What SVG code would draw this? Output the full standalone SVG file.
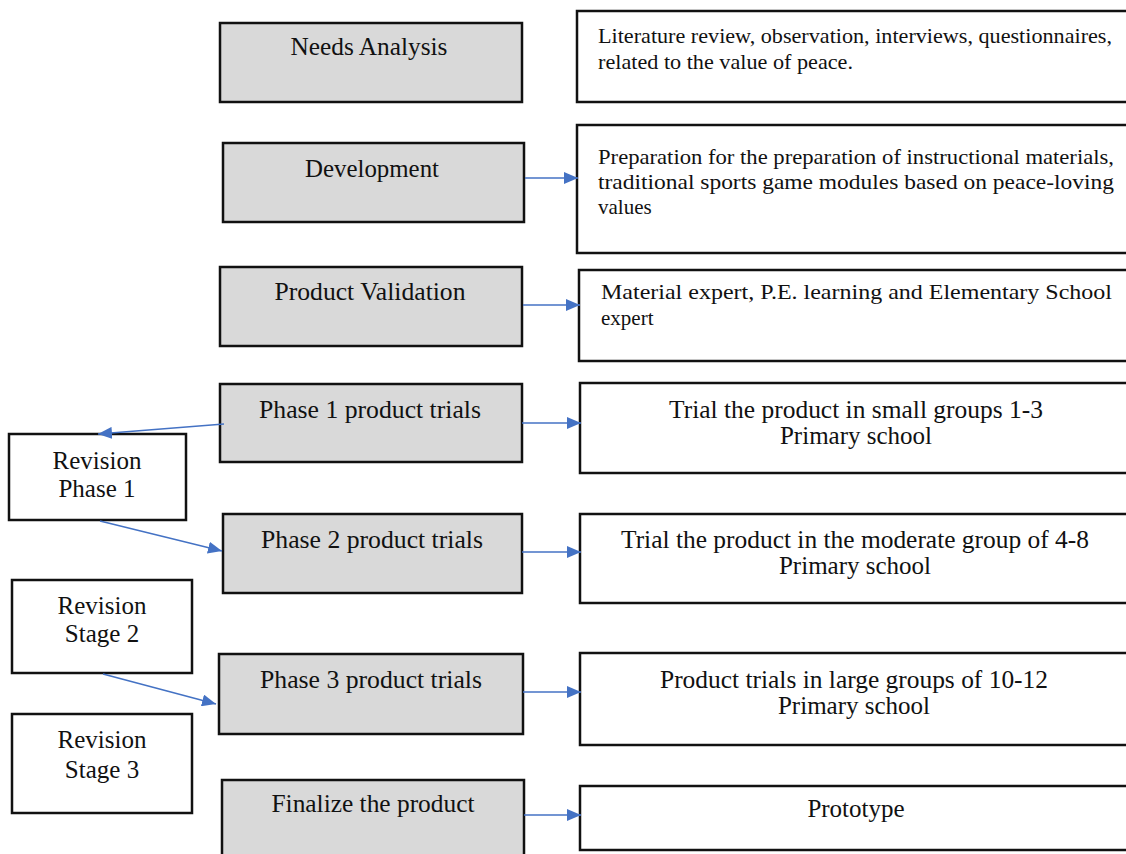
<svg xmlns="http://www.w3.org/2000/svg" width="1126" height="854" viewBox="0 0 1126 854">
<defs>
<style>
.box{fill:#fff;stroke:#111;stroke-width:2.5}
.gray{fill:#d9d9d9;stroke:#111;stroke-width:2.5}
.lbl{font-family:"Liberation Serif",serif;font-size:25px;fill:#111;text-anchor:middle}
.desc{font-family:"Liberation Serif",serif;font-size:21px;fill:#111}
.con{stroke:#4472c4;stroke-width:1.5;fill:none;marker-end:url(#ah)}
</style>
<marker id="ah" viewBox="0 0 14 12" refX="14" refY="6" markerWidth="14" markerHeight="12" markerUnits="userSpaceOnUse" orient="auto">
<path d="M0,0 L14,6 L0,12 z" fill="#4472c4"/>
</marker>
</defs>
<rect width="1126" height="854" fill="#fff"/>

<g id="needs-analysis"><rect class="gray" x="220" y="23" width="302" height="79"/><text class="lbl" x="369" y="55" textLength="157" lengthAdjust="spacingAndGlyphs">Needs Analysis</text></g>
<g id="literature"><rect class="box" x="577" y="11" width="560" height="91"/>
<text class="desc" x="598" y="43" textLength="514" lengthAdjust="spacingAndGlyphs">Literature review, observation, interviews, questionnaires,</text>
<text class="desc" x="598" y="69" textLength="255" lengthAdjust="spacingAndGlyphs">related to the value of peace.</text></g>

<g id="development"><rect class="gray" x="223" y="143" width="301" height="79"/><text class="lbl" x="372" y="177" textLength="134" lengthAdjust="spacingAndGlyphs">Development</text></g>
<g id="preparation"><rect class="box" x="577" y="125" width="560" height="128"/>
<text class="desc" x="598" y="164" textLength="516" lengthAdjust="spacingAndGlyphs">Preparation for the preparation of instructional materials,</text>
<text class="desc" x="598" y="189" textLength="516" lengthAdjust="spacingAndGlyphs">traditional sports game modules based on peace-loving</text>
<text class="desc" x="598" y="214">values</text></g>

<g id="product-validation"><rect class="gray" x="220" y="267" width="302" height="79"/><text class="lbl" x="370" y="300" textLength="191" lengthAdjust="spacingAndGlyphs">Product Validation</text></g>
<g id="material"><rect class="box" x="579" y="270" width="560" height="91"/>
<text class="desc" x="601" y="299" textLength="511" lengthAdjust="spacingAndGlyphs">Material expert, P.E. learning and Elementary School</text>
<text class="desc" x="601" y="325">expert</text></g>

<g id="phase1"><rect class="gray" x="220" y="384" width="302" height="78"/><text class="lbl" x="370" y="418" textLength="222" lengthAdjust="spacingAndGlyphs">Phase 1 product trials</text></g>
<g id="trial1"><rect class="box" x="580" y="383" width="560" height="90"/>
<text class="lbl" x="856" y="418" textLength="374" lengthAdjust="spacingAndGlyphs">Trial the product in small groups 1-3</text>
<text class="lbl" x="856" y="444">Primary school</text></g>

<g id="revision1"><rect class="box" x="9" y="434" width="177" height="86"/>
<text class="lbl" x="97" y="469">Revision</text><text class="lbl" x="97" y="497">Phase 1</text></g>

<g id="phase2"><rect class="gray" x="223" y="514" width="299" height="79"/><text class="lbl" x="372" y="548" textLength="222" lengthAdjust="spacingAndGlyphs">Phase 2 product trials</text></g>
<g id="trial2"><rect class="box" x="580" y="514" width="560" height="89"/>
<text class="lbl" x="855" y="548" textLength="468" lengthAdjust="spacingAndGlyphs">Trial the product in the moderate group of 4-8</text>
<text class="lbl" x="855" y="574">Primary school</text></g>

<g id="revision2"><rect class="box" x="12" y="580" width="180" height="93"/>
<text class="lbl" x="102" y="614">Revision</text><text class="lbl" x="102" y="642">Stage 2</text></g>

<g id="phase3"><rect class="gray" x="219" y="654" width="304" height="80"/><text class="lbl" x="371" y="688" textLength="222" lengthAdjust="spacingAndGlyphs">Phase 3 product trials</text></g>
<g id="trial3"><rect class="box" x="580" y="653" width="560" height="92"/>
<text class="lbl" x="854" y="688" textLength="388" lengthAdjust="spacingAndGlyphs">Product trials in large groups of 10-12</text>
<text class="lbl" x="854" y="714">Primary school</text></g>

<g id="revision3"><rect class="box" x="12" y="714" width="180" height="99"/>
<text class="lbl" x="102" y="748">Revision</text><text class="lbl" x="102" y="778">Stage 3</text></g>

<g id="finalize"><rect class="gray" x="222" y="780" width="302" height="90"/><text class="lbl" x="373" y="812" textLength="203" lengthAdjust="spacingAndGlyphs">Finalize the product</text></g>
<g id="prototype"><rect class="box" x="580" y="786" width="560" height="64"/>
<text class="lbl" x="856" y="817">Prototype</text></g>

<g id="connectors">
<line class="con" x1="525" y1="178" x2="578" y2="178"/>
<line class="con" x1="523" y1="305" x2="580" y2="305"/>
<line class="con" x1="522" y1="423" x2="581" y2="423"/>
<line class="con" x1="224" y1="424" x2="98" y2="434"/>
<line class="con" x1="100" y1="521" x2="222" y2="551"/>
<line class="con" x1="522" y1="552" x2="581" y2="552"/>
<line class="con" x1="103" y1="674" x2="216" y2="704"/>
<line class="con" x1="523" y1="692" x2="581" y2="692"/>
<line class="con" x1="524" y1="815" x2="581" y2="815"/>
</g>
</svg>
